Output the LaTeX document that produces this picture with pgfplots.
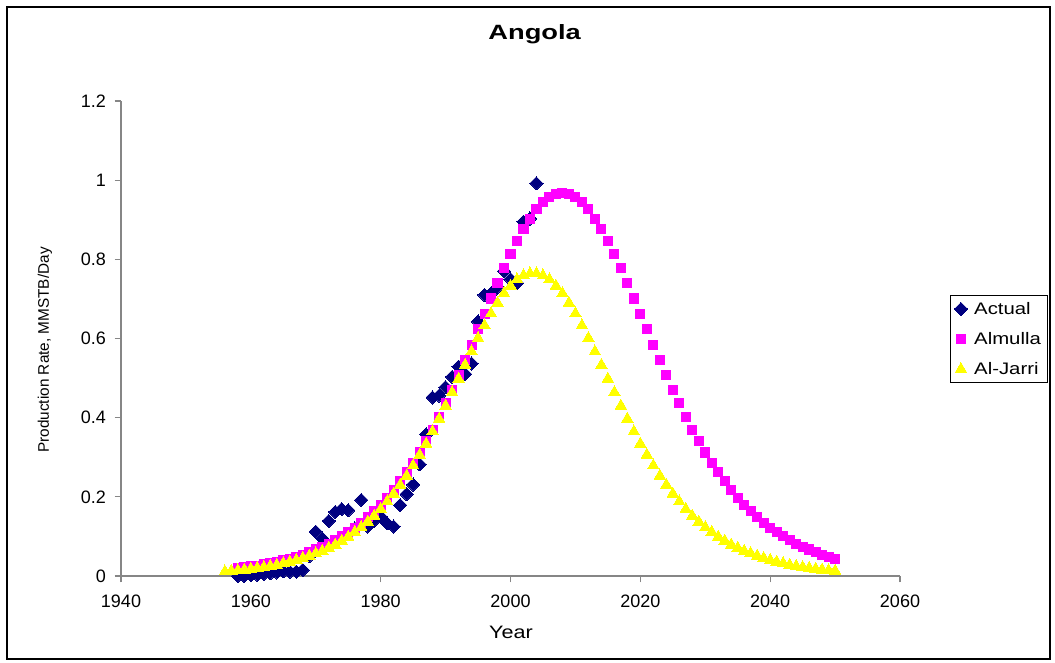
\documentclass[border=0pt]{standalone}
\usepackage{pgfplots}
\pgfplotsset{compat=1.18}
\usepackage{pgfplotstable}
\usepackage{graphicx}
\usepackage{fontspec}
\setmainfont{Liberation Sans}
\definecolor{navyc}{RGB}{0,0,128}
\definecolor{magc}{RGB}{255,0,255}
\definecolor{yelc}{RGB}{255,255,0}
\definecolor{axgray}{RGB}{134,134,134}

\pgfplotstableread{
year val
1958 0.000
1959 0.000
1960 0.002
1961 0.003
1962 0.005
1963 0.007
1964 0.009
1965 0.012
1966 0.011
1967 0.011
1968 0.015
1969 0.050
1970 0.112
1971 0.095
1972 0.139
1973 0.162
1974 0.169
1975 0.166
1976 0.120
1977 0.192
1978 0.125
1979 0.140
1980 0.150
1981 0.133
1982 0.125
1983 0.179
1984 0.207
1985 0.231
1986 0.282
1987 0.358
1988 0.451
1989 0.456
1990 0.477
1991 0.503
1992 0.529
1993 0.510
1994 0.537
1995 0.643
1996 0.710
1997 0.714
1998 0.730
1999 0.770
2000 0.750
2001 0.740
2002 0.895
2003 0.903
2004 0.992
}\actual

\pgfplotstableread{
year val
1958 0.021
1959 0.022
1960 0.024
1961 0.026
1962 0.029
1963 0.032
1964 0.036
1965 0.040
1966 0.044
1967 0.049
1968 0.054
1969 0.060
1970 0.067
1971 0.074
1972 0.082
1973 0.090
1974 0.100
1975 0.111
1976 0.122
1977 0.135
1978 0.148
1979 0.164
1980 0.180
1981 0.198
1982 0.218
1983 0.239
1984 0.262
1985 0.286
1986 0.312
1987 0.341
1988 0.370
1989 0.402
1990 0.436
1991 0.471
1992 0.507
1993 0.545
1994 0.584
1995 0.623
1996 0.662
1997 0.701
1998 0.740
1999 0.777
2000 0.813
2001 0.846
2002 0.876
2003 0.903
2004 0.926
2005 0.944
2006 0.957
2007 0.965
2008 0.968
2009 0.965
2010 0.957
2011 0.944
2012 0.926
2013 0.903
2014 0.876
2015 0.846
2016 0.813
2017 0.777
2018 0.740
2019 0.701
2020 0.662
2021 0.623
2022 0.584
2023 0.545
2024 0.507
2025 0.471
2026 0.436
2027 0.402
2028 0.370
2029 0.341
2030 0.312
2031 0.286
2032 0.262
2033 0.239
2034 0.218
2035 0.198
2036 0.180
2037 0.164
2038 0.148
2039 0.135
2040 0.122
2041 0.111
2042 0.100
2043 0.090
2044 0.082
2045 0.074
2046 0.067
2047 0.060
2048 0.054
2049 0.049
2050 0.044
}\almulla

\pgfplotstableread{
year val
1956 0.011
1957 0.013
1958 0.014
1959 0.016
1960 0.018
1961 0.020
1962 0.022
1963 0.025
1964 0.028
1965 0.032
1966 0.036
1967 0.040
1968 0.045
1969 0.051
1970 0.057
1971 0.063
1972 0.071
1973 0.079
1974 0.089
1975 0.099
1976 0.111
1977 0.123
1978 0.137
1979 0.152
1980 0.169
1981 0.188
1982 0.208
1983 0.230
1984 0.253
1985 0.279
1986 0.306
1987 0.334
1988 0.365
1989 0.397
1990 0.430
1991 0.464
1992 0.498
1993 0.533
1994 0.567
1995 0.601
1996 0.633
1997 0.663
1998 0.690
1999 0.714
2000 0.733
2001 0.749
2002 0.759
2003 0.764
2004 0.764
2005 0.759
2006 0.749
2007 0.733
2008 0.714
2009 0.690
2010 0.663
2011 0.633
2012 0.601
2013 0.567
2014 0.533
2015 0.498
2016 0.464
2017 0.430
2018 0.397
2019 0.365
2020 0.334
2021 0.306
2022 0.279
2023 0.253
2024 0.230
2025 0.208
2026 0.188
2027 0.169
2028 0.152
2029 0.137
2030 0.123
2031 0.111
2032 0.099
2033 0.089
2034 0.079
2035 0.071
2036 0.063
2037 0.057
2038 0.051
2039 0.045
2040 0.040
2041 0.036
2042 0.032
2043 0.028
2044 0.025
2045 0.022
2046 0.020
2047 0.018
2048 0.016
2049 0.014
2050 0.013
}\aljarri

\begin{document}
\begin{tikzpicture}
\begin{axis}[
  scale only axis,
  width=584.25pt, height=356.25pt,
  xmin=1940, xmax=2060, ymin=0, ymax=1.2,
  xtick={1940,1960,1980,2000,2020,2040,2060},
  ytick={0,0.2,0.4,0.6,0.8,1,1.2},
  yticklabels={0,0.2,0.4,0.6,0.8,1,1.2},
  xticklabels={1940,1960,1980,2000,2020,2040,2060},
  axis lines=left,
  axis line style={-, axgray, line width=0.9pt},
  tick style={axgray, line width=0.9pt},
  tick align=outside,
  major tick length=4.8pt,
  /pgf/number format/assume math mode=true,
  ticklabel style={font=\fontsize{13.5}{16}\selectfont},
  xticklabel style={yshift=-6pt},
  yticklabel style={xshift=-3pt},
  title={\fontsize{15.5}{18}\selectfont\bfseries\scalebox{1.32}[1]{Angola}},
  title style={at={(rel axis cs:0.531,1.124)}, anchor=center},
  xlabel={\fontsize{13.5}{15}\selectfont\scalebox{1.2}[1]{Year}},
  xlabel style={at={(rel axis cs:0.5006,-0.118)}, anchor=center},
  ylabel={\fontsize{11.5}{13}\selectfont Production Rate, MMSTB/Day},
  ylabel style={at={(rel axis cs:-0.0976,0.476)}, anchor=center},
  legend style={at={(rel axis cs:1.064,0.592)}, anchor=north west,
    draw=black, line width=0.7pt, font=\fontsize{12.5}{14}\selectfont,
    row sep=8pt, inner sep=3pt},
  legend cell align=left,
  clip=false,
]
\addplot[only marks, mark=square*, mark size=3.5pt, mark options={rotate=45, fill=navyc, draw=navyc, line width=0pt}] table[x=year,y=val] {\actual};
\addlegendentry{\hspace{3pt}\scalebox{1.22}[1]{Actual}}
\addplot[only marks, mark=square*, mark size=3.4pt, mark options={fill=magc, draw=magc, line width=0pt}] table[x=year,y=val] {\almulla};
\addlegendentry{\hspace{3pt}\scalebox{1.22}[1]{Almulla}}
\addplot[only marks, mark=triangle*, mark size=5pt, mark options={fill=yelc, draw=yelc, line width=0pt}] table[x=year,y=val] {\aljarri};
\addlegendentry{\hspace{3pt}\scalebox{1.22}[1]{Al-Jarri}}
\end{axis}
\draw[black, line width=1pt] (-85.5pt,-62.25pt) rectangle (696.75pt,426.75pt);
\path (-90.75pt,-64.5pt) rectangle (700.5pt,432pt);
\end{tikzpicture}
\end{document}
